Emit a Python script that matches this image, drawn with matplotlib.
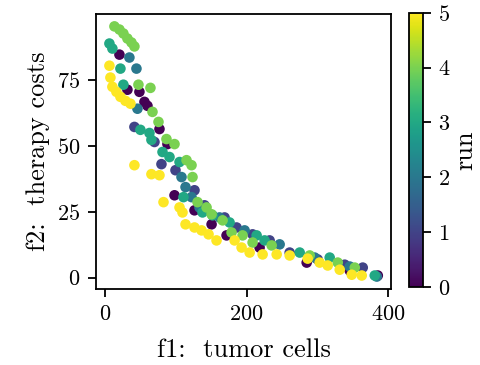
import numpy as np
import matplotlib
matplotlib.use("Agg")
import matplotlib.pyplot as plt

plt.rcParams["font.family"] = "serif"
plt.rcParams["font.serif"] = ["cmr10"]
plt.rcParams["mathtext.fontset"] = "cm"
plt.rcParams["axes.formatter.use_mathtext"] = True
plt.rcParams["font.size"] = 16
plt.rcParams["axes.labelsize"] = 19
plt.rcParams["axes.linewidth"] = 1.3
for axis in ("xtick", "ytick"):
    plt.rcParams[f"{axis}.major.size"] = 5.6
    plt.rcParams[f"{axis}.major.width"] = 1.3
    plt.rcParams[f"{axis}.major.pad"] = 5.6
plt.rcParams["axes.labelpad"] = 6.4

# Pareto fronts (tumor cells vs. therapy costs) found in each run
run0_f1 = [19.9, 31.2, 48.2, 55.3, 59.6, 76.6, 87.9, 97.9, 126.2, 150.4, 171.6, 218.4, 285.1, 346.0, 385.8]
run0_f2 = [84.5, 71.2, 70.4, 66.6, 65.1, 56.3, 50.6, 31.2, 25.5, 20.2, 16.0, 11.4, 5.7, 2.7, 0.8]

run1_f1 = [41.1, 69.5, 79.4, 99.3, 126.2, 140.4, 168.8, 185.8, 208.5, 232.6, 261.0, 300.7, 339.0, 364.5]
run1_f2 = [57.1, 51.4, 43.0, 40.7, 33.1, 27.4, 22.8, 19.0, 16.4, 14.1, 9.5, 6.9, 4.9, 3.8]

run2_f1 = [34.0, 44.0, 45.4, 107.8, 113.5, 122.0, 133.3, 161.7, 197.2, 246.8, 296.4, 346.1, 384.4]
run2_f2 = [83.4, 79.2, 64.0, 38.1, 34.3, 30.5, 26.6, 22.8, 17.9, 12.6, 7.6, 4.2, 0.4]

run3_f1 = [5.7, 9.9, 21.3, 25.5, 49.6, 62.4, 65.2, 80.9, 90.8, 105.0, 110.6, 137.6, 151.8, 175.9, 214.2, 225.5, 275.2, 317.7, 381.5]
run3_f2 = [88.7, 86.8, 79.2, 73.1, 56.0, 54.8, 52.2, 47.6, 45.7, 43.8, 30.5, 24.7, 23.6, 20.9, 16.0, 14.1, 9.5, 7.6, 0.8]

run4_f1 = [12.8, 19.9, 25.5, 31.2, 36.9, 41.1, 46.8, 63.8, 66.7, 75.2, 86.5, 97.9, 114.9, 122.0, 123.4,
           130.5, 143.3, 150.4, 166.0, 178.7, 194.3, 208.5, 235.5, 289.4, 329.1, 353.2]
run4_f2 = [95.2, 94.0, 92.5, 90.6, 89.1, 87.6, 73.1, 71.9, 62.8, 59.0, 52.5, 50.6, 44.5, 42.6, 38.1,
           28.6, 26.6, 24.0, 21.7, 17.1, 16.0, 13.3, 12.2, 8.4, 5.7, 3.8]

run5_f1 = [5.7, 7.1, 9.9, 15.6, 21.3, 28.4, 35.5, 41.1, 65.2, 76.6, 82.3, 105.0, 109.2, 113.5, 126.2,
           136.2, 146.1, 157.4, 183.0, 192.9, 204.3, 222.7, 242.6, 261.0, 286.5, 303.5, 314.9, 331.9, 348.9, 363.1]
run5_f2 = [80.3, 75.8, 72.3, 70.4, 68.5, 67.0, 65.9, 42.6, 39.2, 38.8, 28.6, 26.6, 24.7, 20.2, 19.0,
           17.9, 16.4, 14.1, 14.1, 11.4, 9.5, 8.8, 8.8, 8.4, 7.2, 5.7, 4.6, 3.0, 1.1, 0.8]

runs = [0, 1, 2, 3, 4, 5]
f1_values = [run0_f1, run1_f1, run2_f1, run3_f1, run4_f1, run5_f1]
f2_values = [run0_f2, run1_f2, run2_f2, run3_f2, run4_f2, run5_f2]

f1 = np.concatenate([np.asarray(v, float) for v in f1_values])
f2 = np.concatenate([np.asarray(v, float) for v in f2_values])
run = np.concatenate([np.full(len(v), r) for r, v in zip(runs, f1_values)])

fig = plt.figure(figsize=(4.8, 3.65), dpi=100)
ax = fig.add_axes([0.200, 0.208, 0.615, 0.754])
cax = fig.add_axes([0.852, 0.214, 0.029, 0.751])

sc = ax.scatter(f1, f2, c=run, cmap="viridis", vmin=0, vmax=5, s=58, linewidths=0)
ax.set_xlabel("f1:  tumor cells", labelpad=10)
ax.set_ylabel("f2:  therapy costs", labelpad=5)
ax.set_xticks([0, 200, 400])
ax.set_yticks([0, 25, 50, 75])

cb = fig.colorbar(sc, cax=cax)
cb.outline.set_linewidth(1.3)
cb.set_label("run", labelpad=2)
cb.set_ticks([0, 1, 2, 3, 4, 5])

fig.savefig("out.png", dpi=100)
